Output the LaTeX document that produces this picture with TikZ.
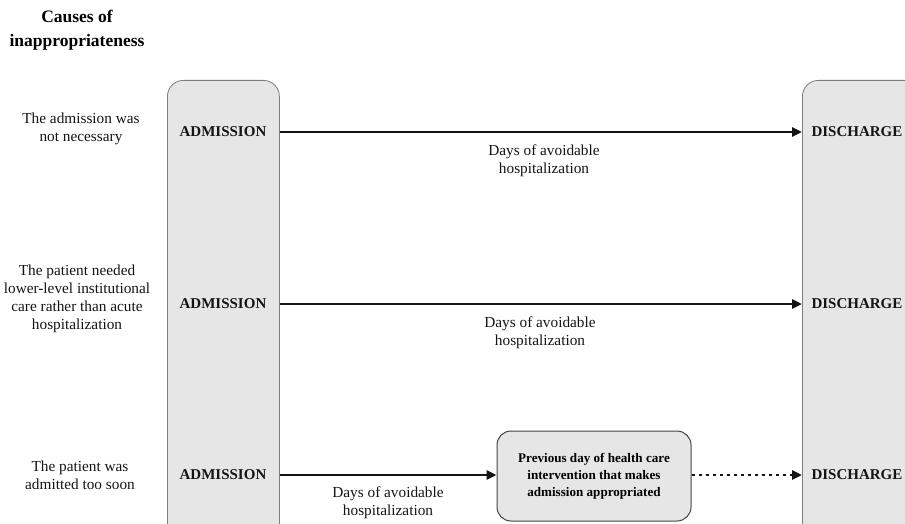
\documentclass[tikz,border=0pt]{standalone}
\usepackage{fontspec}
\setmainfont{Liberation Serif}
\usepackage{xcolor}
\usepackage{tikz}
\usetikzlibrary{arrows.meta,positioning,calc}
\definecolor{ink}{RGB}{20,20,20}
\definecolor{edge}{RGB}{125,125,125}
\definecolor{soft}{RGB}{230,230,230}

\begin{document}
\begin{tikzpicture}[x=1pt,y=-1pt,>={Triangle[length=10pt,width=9pt]},font=\fontsize{15.3}{18}\selectfont]
\tikzset{bar/.style={draw=edge,fill=soft,rounded corners=16pt,line width=0.8pt,anchor=north west,inner sep=0pt},
  cause/.style={align=center,text=ink},lab/.style={align=center,text=ink},tag/.style={font=\fontsize{15}{18}\selectfont\bfseries,text=ink},
  mid/.style={draw=ink!80,fill=soft,rounded corners=14pt,line width=1pt,align=center,minimum width=194pt,minimum height=90pt,font=\fontsize{13.1}{17}\selectfont\bfseries},
  arr/.style={->,line width=2.8pt,draw=ink},dotarr/.style={arr,dash pattern=on 3pt off 4pt}}
\useasboundingbox (0,0) rectangle (905,524);
\clip (0,0) rectangle (905,524);
\node[align=center,font=\fontsize{17.5}{24}\selectfont\bfseries] (head) at (77,30) {Causes of\\inappropriateness};
% admission / discharge bars
\node[bar,minimum width=112pt,minimum height=480pt] (abar) at (167,80) {};
\node[bar,minimum width=130pt,minimum height=480pt] (dbar) at (802,80) {};
% causes
\node[cause] (c1) at (81,129) {The admission was\\not necessary};
\node[cause] (c2) at (77,299) {The patient needed\\lower-level institutional\\care rather than acute\\hospitalization};
\node[cause] (c3) at (80,475) {The patient was\\admitted too soon};
% row tags
\node[tag] (a1) at (223,132) {ADMISSION};
\node[tag] (a2) at (223,304) {ADMISSION};
\node[tag] (a3) at (223,475) {ADMISSION};
\node[tag,anchor=west] (d1) at (808,132) {DISCHARGE};
\node[tag,anchor=west] (d2) at (808,304) {DISCHARGE};
\node[tag,anchor=west] (d3) at (808,475) {DISCHARGE};
\node[mid] (prev) at (594,476) {Previous day of health care\\intervention that makes\\admission appropriated};
% avoidable days
\node[lab] (l1) at (544,161) {Days of avoidable\\hospitalization};
\node[lab] (l2) at (540,333) {Days of avoidable\\hospitalization};
\node[lab] (l3) at (388,503) {Days of avoidable\\hospitalization};
\draw[arr] (a1 -| abar.east)--(d1 -| dbar.west);
\draw[arr] (a2 -| abar.east)--(d2 -| dbar.west);
\draw[arr] (a3 -| abar.east)--(a3 -| prev.west);
\draw[dotarr] (a3 -| prev.east)--(d3 -| dbar.west);
\end{tikzpicture}
\end{document}
